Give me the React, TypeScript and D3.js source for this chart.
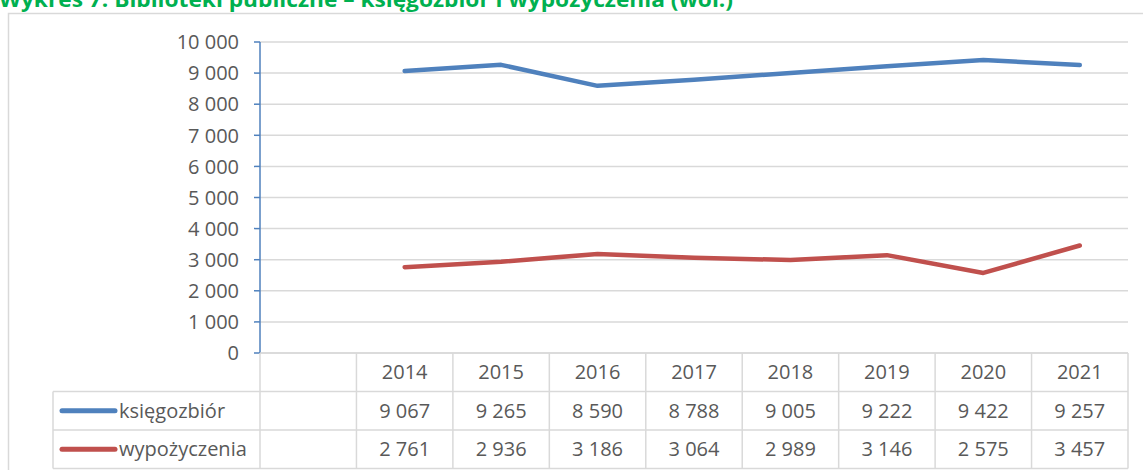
import React from "react";
import * as d3 from "d3";

const categories: string[] = ["", "2014", "2015", "2016", "2017", "2018", "2019", "2020", "2021"];
const years: string[] = ["2014", "2015", "2016", "2017", "2018", "2019", "2020", "2021"];
const ksiegozbior: number[] = [9067, 9265, 8590, 8788, 9005, 9222, 9422, 9257];
const wypozyczenia: number[] = [2761, 2936, 3186, 3064, 2989, 3146, 2575, 3457];
const yTicks: number[] = [0, 1000, 2000, 3000, 4000, 5000, 6000, 7000, 8000, 9000, 10000];
const seriesNames: string[] = ["księgozbiór", "wypożyczenia"];
const seriesColors: string[] = ["#4F81BD", "#C0504D"];
const titleText = "Wykres 7. Biblioteki publiczne – księgozbiór i wypożyczenia (wol.)";

const W = 1143;
const H = 470;
const FONT = "'Open Sans', 'Liberation Sans', sans-serif";
const TXT = "#595959";
const GRID = "#D9D9D9";

const fmt = (v: number) => {
  const s = String(v);
  return s.length > 3 ? s.slice(0, s.length - 3) + " " + s.slice(s.length - 3) : s;
};

export default function App() {
  const plotLeft = 260;
  const plotRight = 1128;
  const plotTop = 42;
  const plotBottom = 353;
  const rowH = 38.5;
  const tableLeft = 53;

  const x = d3.scaleBand<string>().domain(categories).range([plotLeft, plotRight]).padding(0);
  const y = d3.scaleLinear().domain([0, 10000]).range([plotBottom, plotTop]);
  const cx = (c: string) => (x(c) as number) + x.bandwidth() / 2;

  const line = d3
    .line<number>()
    .x((_, i) => cx(years[i]))
    .y((d) => y(d));

  const allSeries = [ksiegozbior, wypozyczenia];
  const rows = [plotBottom, plotBottom + rowH, plotBottom + 2 * rowH, plotBottom + 3 * rowH];
  const fs = 20;

  return (
    <svg
      width={W}
      height={H}
      style={{ position: "absolute", left: 0, top: 0, background: "#fff" }}
      fontFamily={FONT}
    >
      <rect x={0} y={0} width={W} height={H} fill="#fff" />
      {/* outer chart border */}
      <rect x={8.5} y={13.5} width={W + 20} height={H + 20} fill="none" stroke={GRID} strokeWidth={1.5} />
      {/* title */}
      <text x={-1} y={7} fill="#00B050" fontWeight="bold" fontSize={21} textLength={734} lengthAdjust="spacingAndGlyphs">
        {titleText}
      </text>

      {/* gridlines */}
      {yTicks.map((t) => (
        <line key={"g" + t} x1={plotLeft} x2={plotRight} y1={y(t)} y2={y(t)} stroke={GRID} strokeWidth={1.5} />
      ))}

      {/* y axis */}
      <line x1={plotLeft} x2={plotLeft} y1={plotTop} y2={plotBottom} stroke="#4F81BD" strokeWidth={1.5} />
      {yTicks.map((t) => (
        <g key={"t" + t}>
          <line x1={plotLeft - 6} x2={plotLeft} y1={y(t)} y2={y(t)} stroke="#4F81BD" strokeWidth={1.5} />
          <text x={239} y={y(t)} dy="0.36em" textAnchor="end" fill={TXT} fontSize={fs}>
            {fmt(t)}
          </text>
        </g>
      ))}

      {/* table grid */}
      {rows.map((ry, i) => (
        <line
          key={"r" + i}
          x1={i === 0 ? plotLeft : tableLeft}
          x2={plotRight}
          y1={ry}
          y2={ry}
          stroke={GRID}
          strokeWidth={1.5}
        />
      ))}
      <line x1={tableLeft} x2={tableLeft} y1={rows[1]} y2={rows[3]} stroke={GRID} strokeWidth={1.5} />
      {categories.map((c) => (
        <line
          key={"v" + c}
          x1={x(c) as number}
          x2={x(c) as number}
          y1={rows[0]}
          y2={rows[3]}
          stroke={GRID}
          strokeWidth={1.5}
        />
      ))}
      <line x1={plotRight} x2={plotRight} y1={rows[0]} y2={rows[3]} stroke={GRID} strokeWidth={1.5} />

      {/* header years */}
      {years.map((yr) => (
        <text key={"h" + yr} x={cx(yr)} y={(rows[0] + rows[1]) / 2} dy="0.36em" textAnchor="middle" fill={TXT} fontSize={fs}>
          {yr}
        </text>
      ))}

      {/* data rows */}
      {allSeries.map((s, si) => {
        const ry = (rows[si + 1] + rows[si + 2]) / 2;
        return (
          <g key={"s" + si}>
            <line x1={62} x2={115} y1={ry} y2={ry} stroke={seriesColors[si]} strokeWidth={5} strokeLinecap="round" />
            <text x={119} y={ry} dy="0.36em" fill={TXT} fontSize={fs}>
              {seriesNames[si]}
            </text>
            {s.map((v, i) => (
              <text key={i} x={cx(years[i])} y={ry} dy="0.36em" textAnchor="middle" fill={TXT} fontSize={fs}>
                {fmt(v)}
              </text>
            ))}
          </g>
        );
      })}

      {/* series lines */}
      {allSeries.map((s, si) => (
        <path
          key={"l" + si}
          d={line(s) as string}
          fill="none"
          stroke={seriesColors[si]}
          strokeWidth={4.5}
          strokeLinecap="round"
          strokeLinejoin="round"
        />
      ))}
    </svg>
  );
}
